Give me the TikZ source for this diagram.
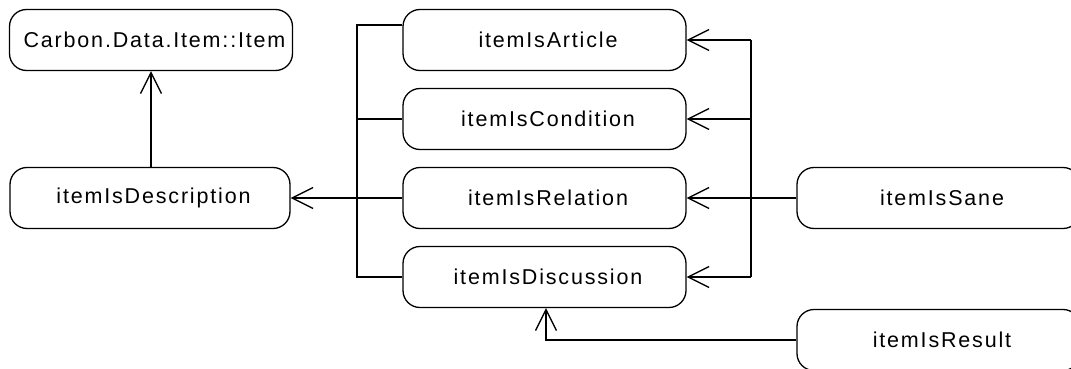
\documentclass[tikz,border=0pt]{standalone}
\usepackage{fontspec}
\setmainfont{Liberation Sans}[LetterSpace=8.5]
\usetikzlibrary{arrows.meta}
\begin{document}
\begin{tikzpicture}[x=1pt,y=-1pt,
  box/.style={draw,line width=1.3pt,rounded corners=17pt,minimum width=283pt,
    minimum height=61pt,inner sep=0pt,font=\fontsize{21.5}{25}\selectfont,
    execute at begin node=\hspace*{7pt}},
  link/.style={line width=1.3pt},
  gen/.style={link,-{Straight Barb[length=21pt,width=21pt,line width=1.3pt]}}]
\useasboundingbox (0,0) rectangle (1071,369);
% nodes
\node[box] (carbon) at (151,40) {Carbon.Data.Item::Item};
\node[box,minimum width=280pt] (desc) at (150,198) {itemIsDescription};
\node[box] (article) at (544.5,40) {itemIsArticle};
\node[box] (condition) at (544.5,119) {itemIsCondition};
\node[box] (relation) at (544.5,198) {itemIsRelation};
\node[box] (discussion) at (544.5,277) {itemIsDiscussion};
\node[box] (sane) at (938.5,198) {itemIsSane};
\node[box] (result) at (938.5,340) {itemIsResult};
% bus positions
\coordinate (busL) at (357,198);
\coordinate (busR) at (751,198);
% description generalises the base item
\draw[gen] (desc.north -| carbon.south) -- (carbon.south);
% left bus into the description
\draw[link] ([yshift=15pt]article.west) -| (busL |- discussion.west) -- (discussion.west);
\draw[link] (condition.west) -- (condition.west -| busL);
\draw[gen] (relation.west) -- (desc.east);
% right bus from the sanity check
\draw[link] (busR |- article.east) -- (busR |- discussion.east);
\draw[gen] (busR |- article.east) -- (article.east);
\draw[gen] (busR |- condition.east) -- (condition.east);
\draw[gen] (sane.west) -- (relation.east);
\draw[gen] (busR |- discussion.east) -- (discussion.east);
% result into discussion
\draw[gen] (result.west) -| ([xshift=1.5pt]discussion.south);
\end{tikzpicture}
\end{document}
